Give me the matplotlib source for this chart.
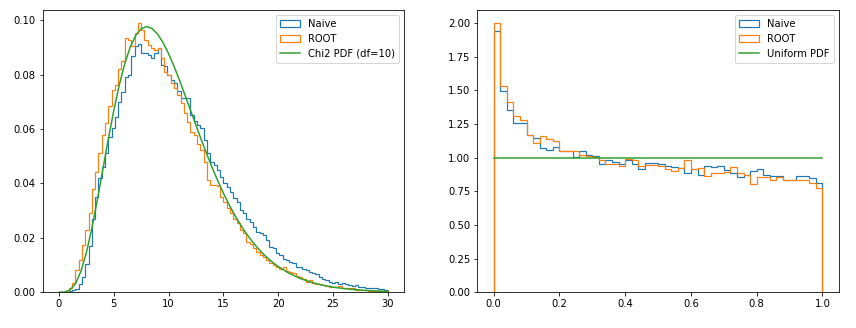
import numpy as np
import matplotlib
matplotlib.use("Agg")
import matplotlib.pyplot as plt

# chi2 samples: 100 bins on [0, 30], normalised heights
chi2_edges = np.linspace(0, 30, 101)
chi2_naive = [
    0.0, 0.0, 0.0001, 0.0004, 0.0008, 0.0012, 0.0030, 0.0055, 0.0105, 0.0170,
    0.0271, 0.0351, 0.0419, 0.0462, 0.0511, 0.0572, 0.0605, 0.0645, 0.0700, 0.0735,
    0.0793, 0.0799, 0.0867, 0.0904, 0.0912, 0.0879, 0.0879, 0.0873, 0.0861, 0.0880,
    0.0897, 0.0835, 0.0830, 0.0800, 0.0780, 0.0770, 0.0740, 0.0716, 0.0713, 0.0713,
    0.0652, 0.0630, 0.0615, 0.0603, 0.0560, 0.0511, 0.0480, 0.0468, 0.0449, 0.0425,
    0.0400, 0.0388, 0.0369, 0.0345, 0.0333, 0.0302, 0.0293, 0.0271, 0.0259, 0.0241,
    0.0222, 0.0216, 0.0210, 0.0192, 0.0167, 0.0161, 0.0143, 0.0136, 0.0124, 0.0118,
    0.0112, 0.0106, 0.0093, 0.0093, 0.0084, 0.0081, 0.0075, 0.0069, 0.0066, 0.0056,
    0.0050, 0.0044, 0.0038, 0.0034, 0.0038, 0.0032, 0.0034, 0.0029, 0.0026, 0.0022,
    0.0026, 0.0020, 0.0020, 0.0017, 0.0017, 0.0015, 0.0015, 0.0012, 0.0012, 0.0010,
]
chi2_root = [
    0.0, 0.0001, 0.0005, 0.0015, 0.0035, 0.0080, 0.0118, 0.0173, 0.0228, 0.0290,
    0.0379, 0.0443, 0.0511, 0.0578, 0.0624, 0.0683, 0.0744, 0.0762, 0.0820, 0.0850,
    0.0934, 0.0928, 0.0904, 0.0953, 0.0990, 0.0965, 0.0928, 0.0910, 0.0897, 0.0891,
    0.0897, 0.0861, 0.0811, 0.0799, 0.0769, 0.0750, 0.0726, 0.0695, 0.0660, 0.0627,
    0.0590, 0.0578, 0.0545, 0.0523, 0.0480, 0.0413, 0.0394, 0.0394, 0.0390, 0.0351,
    0.0333, 0.0308, 0.0290, 0.0271, 0.0253, 0.0228, 0.0216, 0.0185, 0.0179, 0.0161,
    0.0148, 0.0136, 0.0130, 0.0118, 0.0106, 0.0099, 0.0093, 0.0087, 0.0093, 0.0078,
    0.0075, 0.0069, 0.0059, 0.0056, 0.0050, 0.0038, 0.0044, 0.0034, 0.0032, 0.0029,
    0.0026, 0.0022, 0.0020, 0.0020, 0.0020, 0.0022, 0.0015, 0.0015, 0.0015, 0.0015,
    0.0010, 0.0010, 0.0010, 0.0010, 0.0006, 0.0006, 0.0006, 0.0006, 0.0006, 0.0004,
]

# reference chi2 pdf (df=10)
pdf_x = [0, 0.5, 1, 1.5, 2, 2.5, 3, 3.5, 4, 4.5, 5, 5.5, 6, 6.5, 7, 7.5, 8, 8.5,
         9, 9.5, 10, 10.5, 11, 11.5, 12, 12.5, 13, 13.5, 14, 14.5, 15, 15.5, 16,
         16.5, 17, 17.5, 18, 18.5, 19, 19.5, 20, 21, 22, 23, 24, 25, 26, 27, 28,
         29, 30]
pdf_y = [0.0, 0.00006, 0.00079, 0.00311, 0.00766, 0.01457, 0.02353, 0.03396,
         0.04511, 0.05628, 0.06680, 0.07617, 0.08402, 0.09012, 0.09440, 0.09689,
         0.09768, 0.09695, 0.09490, 0.09175, 0.08773, 0.08305, 0.07791, 0.07248,
         0.06693, 0.06137, 0.05591, 0.05064, 0.04561, 0.04088, 0.03646, 0.03237,
         0.02863, 0.02521, 0.02213, 0.01935, 0.01687, 0.01466, 0.01270, 0.01098,
         0.00946, 0.00697, 0.00509, 0.00369, 0.00265, 0.00190, 0.00135, 0.00095,
         0.00067, 0.00046, 0.00032]

# p-values: 50 bins on [0, 1], normalised heights
p_edges = np.linspace(0, 1, 51)
p_naive = [
    1.945, 1.497, 1.353, 1.261, 1.261, 1.166, 1.149, 1.069, 1.059, 1.079,
    1.049, 1.049, 1.007, 1.049, 1.017, 1.012, 0.952, 0.985, 0.967, 0.952,
    0.981, 0.957, 0.920, 0.962, 0.962, 0.957, 0.937, 0.930, 0.925, 0.888,
    0.918, 0.875, 0.937, 0.932, 0.937, 0.907, 0.888, 0.855, 0.875, 0.900,
    0.918, 0.875, 0.863, 0.867, 0.838, 0.838, 0.863, 0.863, 0.850, 0.813,
]
p_root = [
    2.002, 1.530, 1.418, 1.311, 1.281, 1.166, 1.112, 1.161, 1.137, 1.124,
    1.049, 1.049, 1.049, 1.017, 1.012, 1.007, 0.980, 0.957, 0.957, 0.937,
    0.990, 0.985, 0.942, 0.945, 0.945, 0.937, 0.913, 0.905, 0.925, 0.980,
    0.913, 0.925, 0.868, 0.888, 0.888, 0.893, 0.932, 0.888, 0.875, 0.808,
    0.855, 0.858, 0.833, 0.858, 0.838, 0.838, 0.838, 0.833, 0.813, 0.776,
]
uniform_x = [0, 1]
uniform_y = [1, 1]

fig, (ax1, ax2) = plt.subplots(1, 2, figsize=(856 / 72, 328 / 72), dpi=72)
fig.subplots_adjust(left=0.0497, right=0.98, bottom=0.109, top=0.971, wspace=0.202)

chi2_mid = 0.5 * (chi2_edges[:-1] + chi2_edges[1:])
ax1.hist(chi2_mid, bins=chi2_edges, weights=chi2_naive, histtype='step', lw=1.2, label='Naive')
ax1.hist(chi2_mid, bins=chi2_edges, weights=chi2_root, histtype='step', lw=1.2, label='ROOT')
ax1.plot(pdf_x, pdf_y, color='C2', label='Chi2 PDF (df=10)')
ax1.legend(loc='upper right')

p_mid = 0.5 * (p_edges[:-1] + p_edges[1:])
ax2.hist(p_mid, bins=p_edges, weights=p_naive, histtype='step', lw=1.2, label='Naive')
ax2.hist(p_mid, bins=p_edges, weights=p_root, histtype='step', lw=1.2, label='ROOT')
ax2.plot(uniform_x, uniform_y, color='C2', label='Uniform PDF')
ax2.legend(loc='upper right')

fig.savefig('out.png', dpi=72)
